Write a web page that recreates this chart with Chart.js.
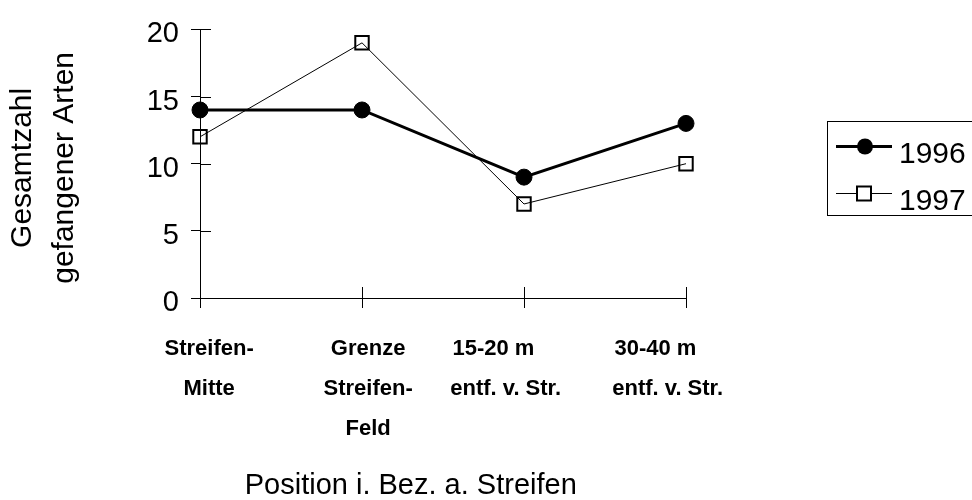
<!DOCTYPE html>
<html lang="de">
<head>
  <meta charset="UTF-8" />
  <title>Gesamtzahl gefangener Arten</title>
  <script src="https://cdn.jsdelivr.net/npm/chart.js"></script>
  <style>
    html, body { margin: 0; padding: 0; background: #fff; }
    #wrap { width: 972px; height: 500px; overflow: hidden; }
  </style>
</head>
<body>
<div id="wrap">
  <canvas id="artenChart" width="972" height="500"></canvas>
</div>

<script>
  // categories (positions relative to the strip)
  const categories = [
    ["Streifen-", "Mitte"],
    ["Grenze", "Streifen-", "Feld"],
    ["15-20 m", "entf. v. Str."],
    ["30-40 m", "entf. v. Str."]
  ];
  const years = ["1996", "1997"];
  const arten1996 = [14, 14, 9, 13];
  const arten1997 = [12, 19, 7, 10];
  const yTicks = [0, 5, 10, 15, 20];

  const FONT = "'Liberation Sans', Arial, sans-serif";

  // nudge labels sideways with spaces (>0 leading, <0 trailing), per line
  const labelNudge = [[3, 3], [2, 2, 2], [-10, -6], [-10, -6]];
  function pad(str, n) {
    if (n > 0) return " ".repeat(n) + str;
    if (n < 0) return str + " ".repeat(-n);
    return str;
  }

  // inner half of the crossing tick marks
  const innerTicks = {
    id: "innerTicks",
    beforeDatasetsDraw(chart) {
      const { ctx, scales: { x, y } } = chart;
      ctx.save();
      ctx.strokeStyle = "#000";
      ctx.lineWidth = 1;
      ctx.beginPath();
      y.ticks.forEach((t, i) => {
        const py = Math.round(y.getPixelForTick(i)) + 0.5;
        ctx.moveTo(y.right, py);
        ctx.lineTo(y.right + 11, py);
      });
      x.ticks.forEach((t, i) => {
        const px = Math.round(x.getPixelForTick(i)) + 0.5;
        ctx.moveTo(px, x.top);
        ctx.lineTo(px, x.top - 11);
      });
      ctx.stroke();
      ctx.restore();
    }
  };

  // boxed legend on the right, line + marker samples
  const boxLegend = {
    id: "boxLegend",
    afterDraw(chart) {
      const ctx = chart.ctx;
      ctx.save();
      ctx.strokeStyle = "#000";
      ctx.lineWidth = 1;
      ctx.strokeRect(827.5, 121.5, 160, 94);

      const rows = [146, 193];
      const baselines = [163, 210];
      chart.data.datasets.forEach((ds, i) => {
        const ly = rows[i] + 0.5;
        ctx.strokeStyle = ds.borderColor;
        ctx.lineWidth = ds.borderWidth;
        ctx.beginPath();
        ctx.moveTo(836, ly);
        ctx.lineTo(892, ly);
        ctx.stroke();

        ctx.lineWidth = ds.pointBorderWidth;
        if (ds.pointStyle === "circle") {
          ctx.fillStyle = ds.pointBackgroundColor;
          ctx.beginPath();
          ctx.arc(865, ly, 8, 0, Math.PI * 2);
          ctx.fill();
        } else {
          ctx.fillStyle = "#fff";
          ctx.fillRect(857, ly - 7, 14, 14);
          ctx.strokeStyle = ds.pointBorderColor;
          ctx.strokeRect(857, ly - 7, 14, 14);
        }

        ctx.fillStyle = "#000";
        ctx.font = "30px " + FONT;
        ctx.textAlign = "left";
        ctx.textBaseline = "alphabetic";
        ctx.fillText(ds.label, 899, baselines[i]);
      });
      ctx.restore();
    }
  };

  const ctx = document.getElementById("artenChart").getContext("2d");
  const artenChart = new Chart(ctx, {
    type: "line",
    data: {
      labels: categories,
      datasets: [{
        label: years[0],
        data: arten1996,
        borderColor: "#000",
        borderWidth: 3,
        pointStyle: "circle",
        pointRadius: 8,
        pointBorderWidth: 1,
        pointBackgroundColor: "#000",
        pointBorderColor: "#000",
        tension: 0,
        clip: false
      }, {
        label: years[1],
        data: arten1997,
        borderColor: "#000",
        borderWidth: 1,
        pointStyle: "rect",
        pointRadius: 9.5,
        pointBorderWidth: 2,
        pointBackgroundColor: "rgba(0,0,0,0)",
        pointBorderColor: "#000",
        tension: 0,
        clip: false
      }]
    },
    options: {
      responsive: false,
      animation: false,
      events: [],
      layout: { padding: { top: 21, right: 286, bottom: 0, left: 0 } },
      plugins: {
        legend: { display: false },
        tooltip: { enabled: false }
      },
      scales: {
        x: {
          type: "category",
          offset: false,
          afterFit: s => { s.height = 202; },
          grid: {
            drawOnChartArea: false,
            drawTicks: true,
            tickLength: 10,
            tickColor: "#000",
            offset: false
          },
          border: { display: true, color: "#000", width: 1 },
          ticks: {
            color: "#000",
            padding: 21,
            maxRotation: 0,
            autoSkip: false,
            font: { family: FONT, size: 22, weight: "bold", lineHeight: 40 / 22 },
            callback: (val, i) => categories[i].map((ln, j) => pad(ln, labelNudge[i][j]))
          },
          title: {
            display: true,
            text: pad("Position i. Bez. a. Streifen", -8),
            color: "#000",
            font: { family: FONT, size: 29, lineHeight: 1 },
            padding: { top: 0, bottom: 0 }
          }
        },
        y: {
          min: 0,
          max: 20,
          afterFit: s => { s.width = 200; },
          afterBuildTicks: s => { s.ticks = yTicks.map(v => ({ value: v })); },
          grid: {
            drawOnChartArea: false,
            drawTicks: true,
            tickLength: 9,
            tickColor: "#000"
          },
          border: { display: true, color: "#000", width: 1 },
          ticks: {
            color: "#000",
            padding: 12,
            labelOffset: 5,
            font: { family: FONT, size: 29 }
          },
          title: {
            display: true,
            text: [pad("Gesamtzahl", -1), pad("gefangener Arten", -1)],
            color: "#000",
            font: { family: FONT, size: 30, lineHeight: 1.4 },
            padding: { top: 2, bottom: 0 }
          }
        }
      }
    },
    plugins: [innerTicks, boxLegend]
  });
</script>
</body>
</html>
